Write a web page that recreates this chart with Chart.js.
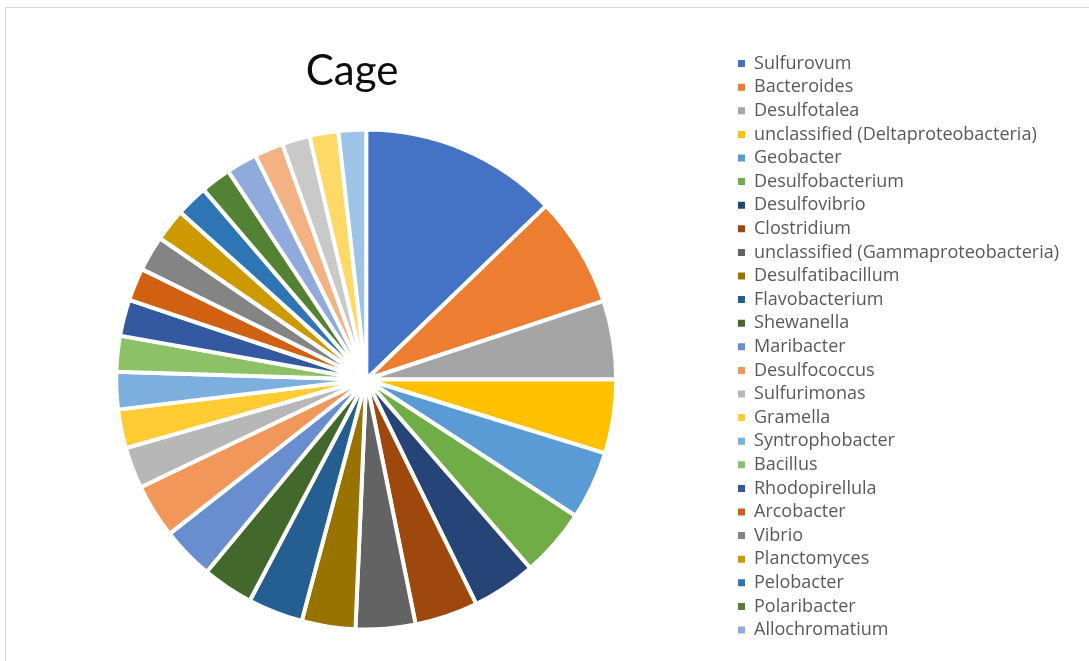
<!DOCTYPE html>
<html>
<head>
<meta charset="utf-8">
<title>Cage</title>
<script src="https://cdn.jsdelivr.net/npm/chart.js@4"></script>
<style>
  html, body { margin: 0; padding: 0; background: #fff; overflow: hidden; width: 1089px; height: 661px; }
  #frame { position: absolute; left: 5px; top: 7px; width: 1200px; height: 800px; border: 1px solid #d9d9d9; box-sizing: border-box; }
  #chart { position: absolute; left: 0; top: 0; }
</style>
</head>
<body>
<div id="frame"></div>
<canvas id="chart" width="1089" height="710"></canvas>
<script>
// Genera in the Cage sample, largest first
const taxa = [
  'Sulfurovum', 'Bacteroides', 'Desulfotalea', 'unclassified (Deltaproteobacteria)',
  'Geobacter', 'Desulfobacterium', 'Desulfovibrio', 'Clostridium',
  'unclassified (Gammaproteobacteria)', 'Desulfatibacillum', 'Flavobacterium', 'Shewanella',
  'Maribacter', 'Desulfococcus', 'Sulfurimonas', 'Gramella',
  'Syntrophobacter', 'Bacillus', 'Rhodopirellula', 'Arcobacter',
  'Vibrio', 'Planctomyces', 'Pelobacter', 'Polaribacter', 'Allochromatium',
  'Other genus 1', 'Other genus 2', 'Other genus 3', 'Other genus 4'
];

// Relative abundance (%)
const abundance = [
  12.78, 7.14, 5.08, 4.78,
  4.42, 4.42, 4.14, 4.08,
  3.86, 3.47, 3.56, 3.31,
  3.39, 3.50, 2.67, 2.50,
  2.42, 2.31, 2.36, 2.11,
  2.28, 2.11, 2.06, 1.97, 2.00,
  1.86, 1.81, 1.86, 1.78
];

const sliceColors = [
  '#4472C4', '#ED7D31', '#A5A5A5', '#FFC000', '#5B9BD5', '#70AD47',
  '#264478', '#9E480E', '#636363', '#997300', '#255E91', '#43682B',
  '#698ED0', '#F1975A', '#B7B7B7', '#FFCD33', '#7CAFDD', '#8CC168',
  '#335AA1', '#D26012', '#848484', '#CC9A00', '#2E75B6', '#548235',
  '#8FAADC', '#F4B183', '#C9C9C9', '#FFD966', '#9DC3E6'
];

const chartTitle = 'Cage';
const legendCount = 25;   // only the first 25 genera are listed

// Title drawn above the pie only, so the legend keeps the full height
const pieTitle = {
  id: 'pieTitle',
  afterDraw(chart, args, opts) {
    const ctx = chart.ctx;
    ctx.save();
    ctx.font = opts.font;
    ctx.fillStyle = opts.color;
    ctx.textAlign = 'center';
    ctx.textBaseline = 'alphabetic';
    ctx.fillText(opts.text, opts.x, opts.y);
    ctx.restore();
  }
};

// Legend swatches: solid squares without the white slice border
function legendLabels(chart) {
  const items = Chart.overrides.pie.plugins.legend.labels.generateLabels(chart);
  items.forEach((item) => {
    item.lineWidth = 0;
    item.strokeStyle = item.fillStyle;
  });
  return items;
}

new Chart(document.getElementById('chart'), {
  type: 'pie',
  data: {
    labels: taxa,
    datasets: [{
      data: abundance,
      backgroundColor: sliceColors,
      borderColor: '#ffffff',
      borderWidth: 4
    }]
  },
  options: {
    responsive: false,
    animation: false,
    devicePixelRatio: 1,
    radius: 250,
    layout: { padding: { left: -6, right: 20, top: 49, bottom: 0 } },
    plugins: {
      tooltip: { enabled: false },
      legend: {
        position: 'right',
        align: 'start',
        labels: {
          boxWidth: 7,
          boxHeight: 7,
          padding: 5.6,
          color: '#595959',
          font: { family: "'Open Sans', sans-serif", size: 18 },
          generateLabels: legendLabels,
          filter: (item) => item.index < legendCount
        }
      },
      pieTitle: { text: chartTitle, x: 352, y: 85, font: '42px Lato, sans-serif', color: '#0d0d0d' }
    }
  },
  plugins: [pieTitle]
});
</script>
</body>
</html>
